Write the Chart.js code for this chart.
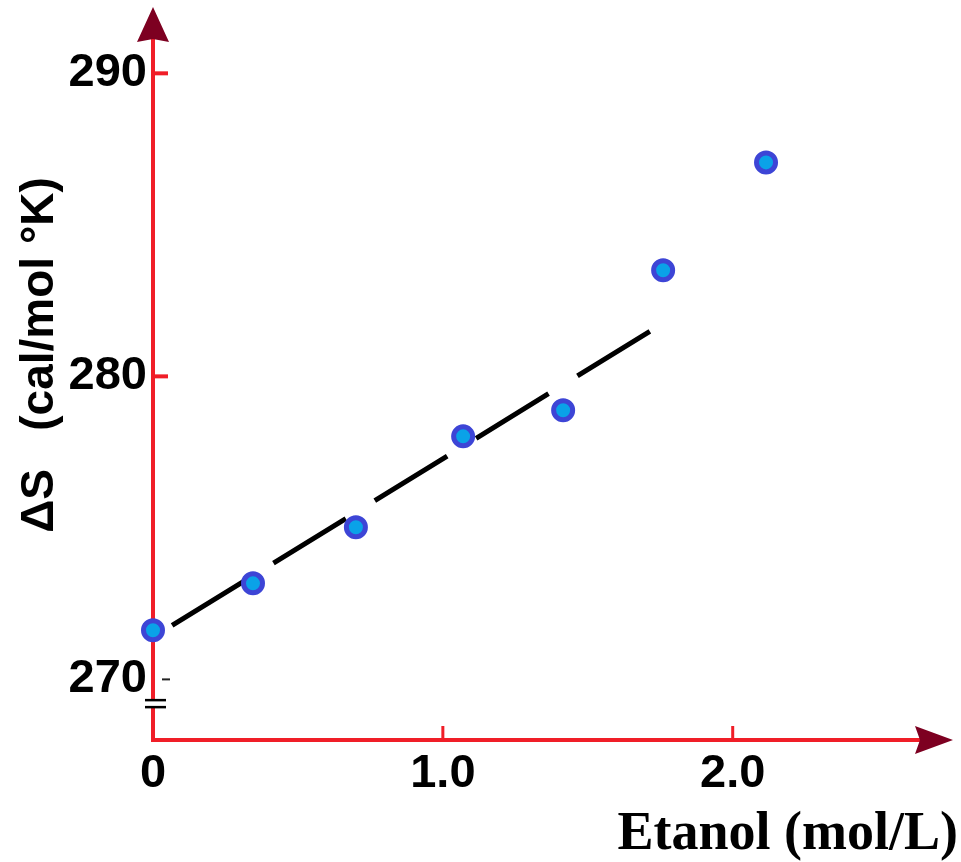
<!DOCTYPE html>
<html>
<head>
<meta charset="utf-8">
<script src="https://cdn.jsdelivr.net/npm/chart.js@4.4.1/dist/chart.umd.min.js"></script>
<style>
  html, body { margin: 0; padding: 0; background: #fff; }
</style>
</head>
<body>
<canvas id="chart" width="961" height="862"></canvas>
<script>
// точки с картинки
const etanol = [0, 0.345, 0.70, 1.07, 1.415, 1.76, 2.115]
const deltaS = [271.62, 273.17, 275.02, 278.02, 278.88, 283.50, 287.06]

// пунктирная прямая
const fitX = [0.066, 1.72]
const fitY = [271.78, 281.52]

const xTicks = [0, 1, 2]
const xTickLabels = ['0', '1.0', '2.0']
const yTicks = [270, 280, 290]

const yTitle = 'ΔS   (cal/mol °K)'
const xTitle = 'Etanol (mol/L)'

const RED = '#f01e28'
const ARROW = '#7d0021'
const tickFont = { family: '"Liberation Sans", Arial, sans-serif', size: 47, weight: 'bold' }

// ─── стрелки, засечки внутрь, разрыв оси, подписи осей ─────────────────────
const axisDecor = {
    id: 'axisDecor',
    afterDraw(chart) {
        const { ctx, chartArea: a, scales: { x, y } } = chart
        ctx.save()

        // засечки внутрь
        ctx.strokeStyle = RED
        ctx.lineWidth = 4
        yTicks.slice(1).forEach(v => {
            const py = y.getPixelForValue(v)
            ctx.beginPath(); ctx.moveTo(a.left, py); ctx.lineTo(a.left + 15, py); ctx.stroke()
        })
        ctx.lineWidth = 3
        xTicks.slice(1).forEach(v => {
            const px = x.getPixelForValue(v)
            ctx.beginPath(); ctx.moveTo(px, a.bottom); ctx.lineTo(px, a.bottom - 14); ctx.stroke()
        })

        // маленькая черная засечка у 270
        ctx.strokeStyle = '#222'
        ctx.lineWidth = 2
        const p270 = y.getPixelForValue(270)
        ctx.beginPath(); ctx.moveTo(a.left + 9, p270); ctx.lineTo(a.left + 17, p270); ctx.stroke()

        // разрыв оси
        const pb = y.getPixelForValue(269.2)
        ctx.fillStyle = '#fff'
        ctx.fillRect(a.left - 3, pb - 3, 6, 6)
        ctx.strokeStyle = '#000'
        ctx.lineWidth = 2.5
        ;[-3.5, 3.5].forEach(d => {
            ctx.beginPath(); ctx.moveTo(a.left - 8, pb + d); ctx.lineTo(a.left + 13, pb + d); ctx.stroke()
        })

        // стрелки
        ctx.fillStyle = ARROW
        ctx.beginPath()
        ctx.moveTo(a.left, 7)
        ctx.lineTo(a.left + 16, 42)
        ctx.lineTo(a.left, 39)
        ctx.lineTo(a.left - 16, 42)
        ctx.closePath(); ctx.fill()

        ctx.beginPath()
        ctx.moveTo(953, a.bottom)
        ctx.lineTo(915, a.bottom + 14)
        ctx.lineTo(920, a.bottom)
        ctx.lineTo(915, a.bottom - 14)
        ctx.closePath(); ctx.fill()

        // подписи осей
        ctx.fillStyle = '#000'
        ctx.font = 'bold 54px "Liberation Serif", "Times New Roman", serif'
        ctx.textAlign = 'right'
        ctx.textBaseline = 'alphabetic'
        ctx.fillText(xTitle, 958, 849)

        ctx.translate(53, 355)
        ctx.rotate(-Math.PI / 2)
        ctx.font = 'bold 46px "Liberation Sans", Arial, sans-serif'
        ctx.textAlign = 'center'
        ctx.fillText(yTitle, 0, 0)

        ctx.restore()
    }
}

new Chart(document.getElementById('chart'), {
    type: 'scatter',
    data: {
        datasets: [
            {
                type: 'line',
                data: fitX.map((v, i) => ({ x: v, y: fitY[i] })),
                borderColor: '#000',
                borderWidth: 5,
                borderDash: [85, 34],
                pointRadius: 0,
                fill: false,
                order: 2,
            },
            {
                data: etanol.map((v, i) => ({ x: v, y: deltaS[i] })),
                pointRadius: 9.5,
                pointBorderWidth: 5,
                backgroundColor: '#0aa2e8',
                borderColor: '#3d45d6',
                clip: false,
                order: 1,
            }
        ]
    },
    options: {
        responsive: false,
        animation: false,
        layout: { padding: { top: 40, right: 37, left: 0, bottom: 0 } },
        plugins: { legend: { display: false }, tooltip: { enabled: false } },
        scales: {
            x: {
                type: 'linear',
                min: 0,
                max: 2.66,
                border: { color: RED, width: 4 },
                grid: { display: false, drawTicks: false },
                ticks: {
                    font: tickFont,
                    color: '#000',
                    padding: 6,
                    autoSkip: false,
                    maxRotation: 0,
                    callback: v => xTickLabels[xTicks.indexOf(v)],
                },
                afterBuildTicks: s => { s.ticks = xTicks.map(v => ({ value: v })) },
                afterFit: s => { s.height = 122 },
            },
            y: {
                min: 268,
                max: 291.1,
                border: { color: RED, width: 4 },
                grid: { display: false, drawTicks: false },
                ticks: { font: tickFont, color: '#000', padding: 6 },
                afterBuildTicks: s => { s.ticks = yTicks.map(v => ({ value: v })) },
                afterFit: s => { s.width = 153 },
            }
        }
    },
    plugins: [axisDecor]
})
</script>
</body>
</html>
